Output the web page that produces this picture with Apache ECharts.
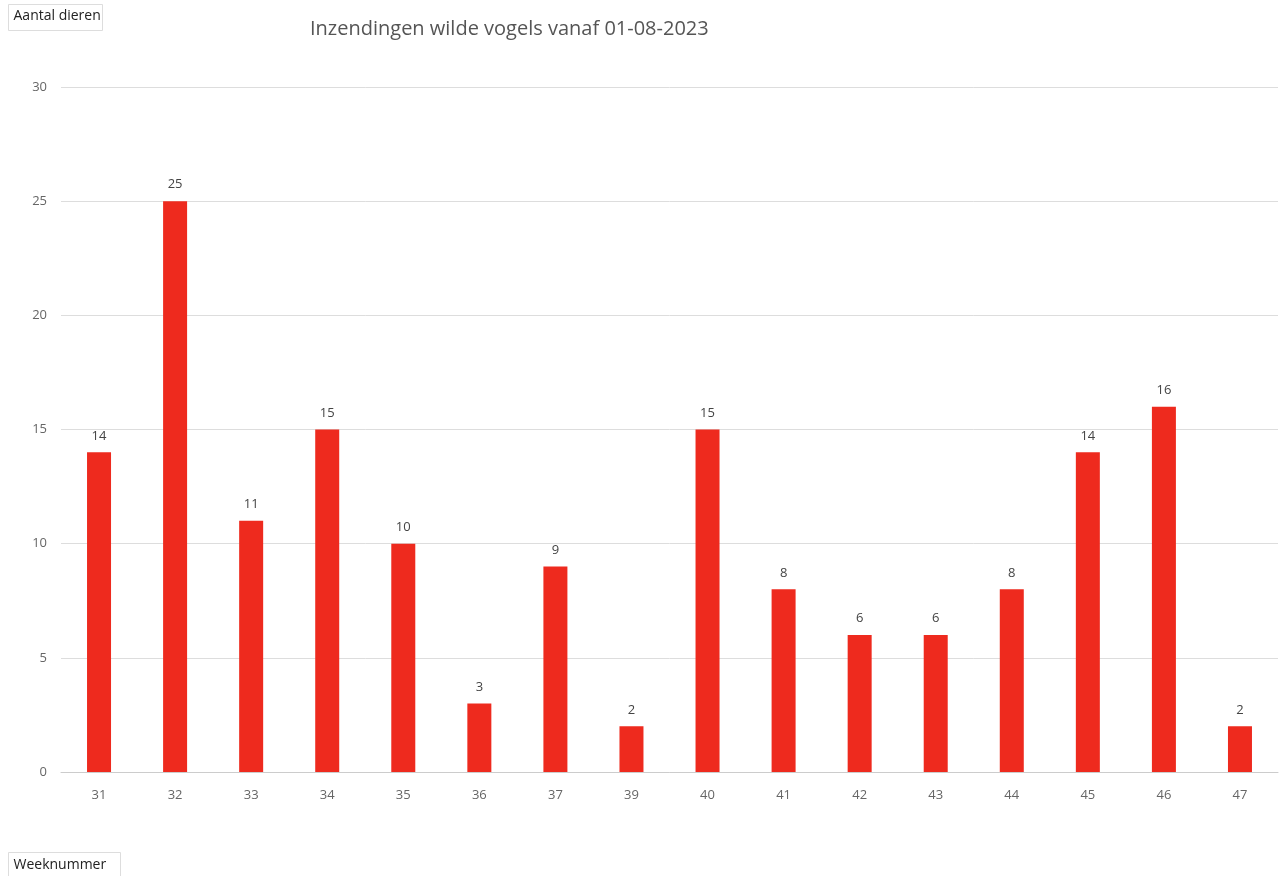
<!DOCTYPE html>
<html>
<head>
<meta charset="utf-8">
<script src="https://cdn.jsdelivr.net/npm/echarts@6/dist/echarts.min.js"></script>
<style>
  html, body { margin: 0; padding: 0; background: #fff; }
  #chart { width: 1279px; height: 876px; }
</style>
</head>
<body>
<div id="chart"></div>
<script>
// weeknummers en aantallen
var weeks = ['31', '32', '33', '34', '35', '36', '37', '39', '40', '41', '42', '43', '44', '45', '46', '47'];
var counts = [14, 25, 11, 15, 10, 3, 9, 2, 15, 8, 6, 6, 8, 14, 16, 2];
var yTicks = [0, 5, 10, 15, 20, 25, 30];

var chart = echarts.init(document.getElementById('chart'));
var font = '"Open Sans", "Liberation Sans", sans-serif';

var option = {
  backgroundColor: '#fff',
  animation: false,
  title: {
    text: 'Inzendingen wilde vogels vanaf 01-08-2023',
    left: 305,
    top: 14,
    textStyle: { color: '#555', fontSize: 20, fontWeight: 'normal', fontFamily: font }
  },
  graphic: [
    {
      type: 'group', left: 8, top: 4,
      children: [
        { type: 'rect', shape: { x: 0, y: 0, width: 94, height: 26 }, style: { fill: '#fff', stroke: '#ddd', lineWidth: 1 } },
        { type: 'text', x: 5, y: 5, style: { text: 'Aantal dieren', fill: '#222', font: '14px ' + font } }
      ]
    },
    {
      type: 'group', left: 8, top: 852,
      children: [
        { type: 'rect', shape: { x: 0, y: 0, width: 112, height: 28 }, style: { fill: '#fff', stroke: '#ddd', lineWidth: 1 } },
        { type: 'text', x: 5, y: 6, style: { text: 'Weeknummer', fill: '#222', font: '14px ' + font } }
      ]
    }
  ],
  grid: { left: 61, right: 1, top: 87, bottom: 104 },
  xAxis: {
    type: 'category',
    data: weeks,
    axisLine: { lineStyle: { color: '#ccc' } },
    axisTick: { show: false },
    axisLabel: { color: '#666', fontSize: 13, margin: 17, fontFamily: font }
  },
  yAxis: {
    type: 'value',
    min: yTicks[0],
    max: yTicks[yTicks.length - 1],
    interval: 5,
    axisLine: { show: false },
    axisTick: { show: false },
    axisLabel: { color: '#666', fontSize: 13, margin: 14, fontFamily: font },
    splitLine: { lineStyle: { color: '#ddd', width: 1 } }
  },
  series: [{
    type: 'bar',
    data: counts,
    barWidth: 24,
    itemStyle: { color: '#ee2a1e' },
    label: {
      show: true,
      position: 'top',
      distance: 10,
      color: '#444',
      fontSize: 13,
      fontFamily: font
    }
  }]
};
chart.setOption(option);
</script>
</body>
</html>
